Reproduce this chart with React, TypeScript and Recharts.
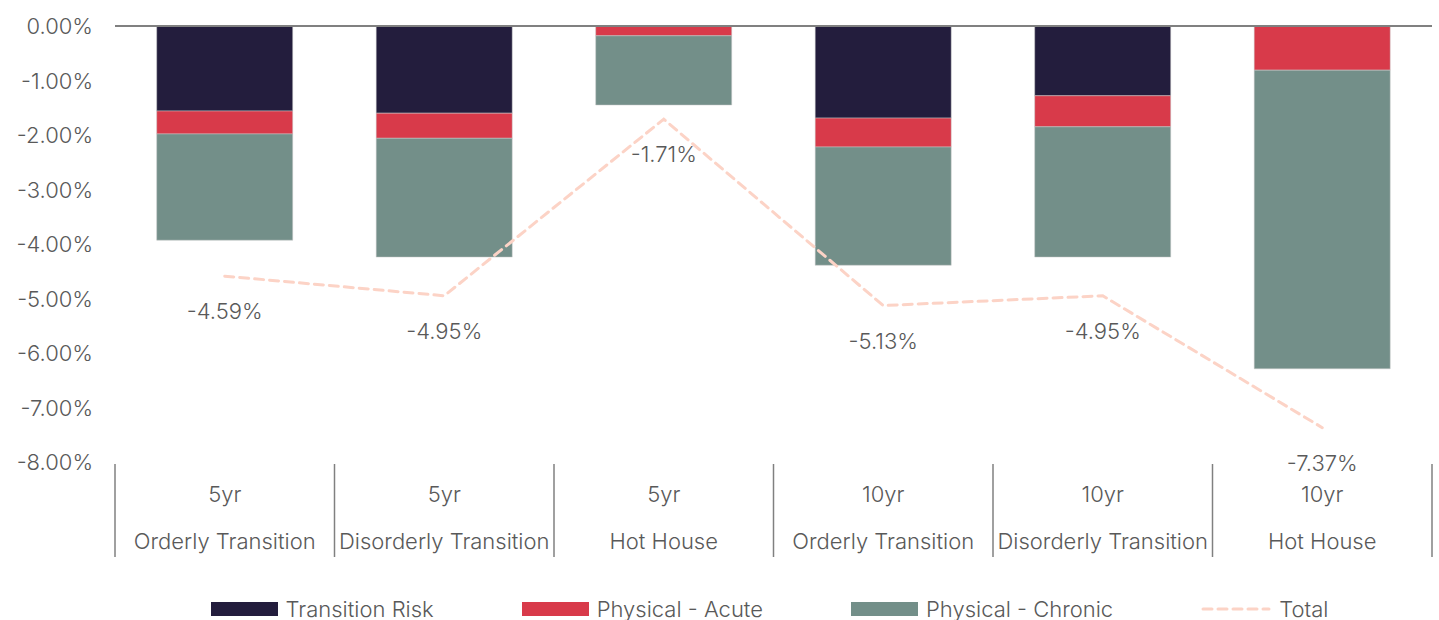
import React from "react";
import {
  ComposedChart,
  Bar,
  Line,
  XAxis,
  YAxis,
  ReferenceLine,
  Legend,
  LabelList,
} from "recharts";

const horizons = ["5yr", "5yr", "5yr", "10yr", "10yr", "10yr"];
const scenarios = [
  "Orderly Transition",
  "Disorderly Transition",
  "Hot House",
  "Orderly Transition",
  "Disorderly Transition",
  "Hot House",
];
const transitionRisk = [-1.56, -1.6, 0, -1.69, -1.28, 0];
const physicalAcute = [-0.42, -0.46, -0.18, -0.53, -0.57, -0.81];
const physicalChronic = [-1.95, -2.18, -1.27, -2.17, -2.39, -5.48];
const total = [-4.59, -4.95, -1.71, -5.13, -4.95, -7.37];
const yTicks = [0, -1, -2, -3, -4, -5, -6, -7, -8];

const COLORS = {
  transition: "#231D3D",
  acute: "#D83A4A",
  chronic: "#738F89",
  total: "#FCD3C6",
  text: "#595959",
  axis: "#808080",
};
const FONT = "Inter, 'Noto Sans', sans-serif";
const FS = 22;

const data = horizons.map((h, i) => ({
  key: i,
  horizon: h,
  scenario: scenarios[i],
  transition: transitionRisk[i],
  acute: physicalAcute[i],
  chronic: physicalChronic[i],
  total: total[i],
}));

const fmt = (v: number) => `${v.toFixed(2)}%`;

const YTick = (props: any) => {
  const { y, payload } = props;
  return (
    <text
      x={93}
      y={y}
      textAnchor="end"
      dominantBaseline="central"
      fill={COLORS.text}
      fontSize={FS}
      fontFamily={FONT}
      fontWeight={300}
    >
      {fmt(payload.value)}
    </text>
  );
};

const XTick = (props: any) => {
  const { x, payload, index, width, visibleTicksCount } = props;
  const d = data[payload.index ?? index] || data[index];
  const band = width / (visibleTicksCount || data.length);
  const top = 464;
  const bottom = 557;
  return (
    <g>
      <line x1={x - band / 2} x2={x - band / 2} y1={top} y2={bottom} stroke={COLORS.axis} strokeWidth={1.5} />
      {index === data.length - 1 && (
        <line x1={x + band / 2} x2={x + band / 2} y1={top} y2={bottom} stroke={COLORS.axis} strokeWidth={1.5} />
      )}
      <text x={x} y={494} textAnchor="middle" dominantBaseline="central" fill={COLORS.text} fontSize={FS} fontFamily={FONT} fontWeight={300}>
        {d.horizon}
      </text>
      <text x={x} y={541} textAnchor="middle" dominantBaseline="central" fill={COLORS.text} fontSize={FS} fontFamily={FONT} fontWeight={300}>
        {d.scenario}
      </text>
    </g>
  );
};

const TotalLabel = (props: any) => {
  const { x, y, value } = props;
  return (
    <text x={x} y={y + 35} textAnchor="middle" dominantBaseline="central" fill={COLORS.text} fontSize={FS} fontFamily={FONT} fontWeight={300}>
      {fmt(value)}
    </text>
  );
};

const legendItems = [
  { label: "Transition Risk", color: COLORS.transition, type: "rect" },
  { label: "Physical - Acute", color: COLORS.acute, type: "rect" },
  { label: "Physical - Chronic", color: COLORS.chronic, type: "rect" },
  { label: "Total", color: COLORS.total, type: "line" },
];

const LegendContent = () => (
  <div
    style={{
      display: "flex",
      justifyContent: "center",
      alignItems: "center",
      gap: 88,
      height: 40,
      paddingTop: 17,
      paddingLeft: 107,
      boxSizing: "border-box",
      fontFamily: FONT,
      fontWeight: 300,
      fontSize: FS,
      color: COLORS.text,
    }}
  >
    {legendItems.map((it) => (
      <div key={it.label} style={{ display: "flex", alignItems: "center", gap: 8 }}>
        {it.type === "rect" ? (
          <div style={{ width: 67, height: 14, background: it.color }} />
        ) : (
          <svg width={70} height={14}>
            <line x1={2} x2={68} y1={7} y2={7} stroke={it.color} strokeWidth={3} strokeDasharray="9 6" strokeLinecap="round" />
          </svg>
        )}
        <span>{it.label}</span>
      </div>
    ))}
  </div>
);

export default function App() {
  return (
    <div style={{ position: "absolute", left: 0, top: 0, background: "#fff" }}>
      <ComposedChart
        width={1439}
        height={620}
        data={data}
        margin={{ top: 26, right: 7, bottom: 0, left: 0 }}
        barCategoryGap="19%"
      >
        <XAxis
          dataKey="key"
          axisLine={false}
          tickLine={false}
          height={118}
          interval={0}
          tick={<XTick />}
        />
        <YAxis
          width={115}
          domain={[-8, 0]}
          ticks={yTicks}
          axisLine={false}
          tickLine={false}
          tick={<YTick />}
          interval={0}
        />
        <ReferenceLine y={0} stroke={COLORS.axis} strokeWidth={2} />
        <Bar dataKey="transition" stackId="a" fill={COLORS.transition} stroke="#c9c9c9" strokeWidth={0.5} isAnimationActive={false} />
        <Bar dataKey="acute" stackId="a" fill={COLORS.acute} stroke="#c9c9c9" strokeWidth={0.5} isAnimationActive={false} />
        <Bar dataKey="chronic" stackId="a" fill={COLORS.chronic} stroke="#c9c9c9" strokeWidth={0.5} isAnimationActive={false} />
        <Line
          dataKey="total"
          stroke={COLORS.total}
          strokeWidth={3}
          strokeDasharray="9 6"
          strokeLinecap="round"
          dot={false}
          activeDot={false}
          isAnimationActive={false}
        >
          <LabelList dataKey="total" content={<TotalLabel />} />
        </Line>
        <Legend verticalAlign="bottom" content={<LegendContent />} wrapperStyle={{ height: 40 }} />
      </ComposedChart>
    </div>
  );
}
